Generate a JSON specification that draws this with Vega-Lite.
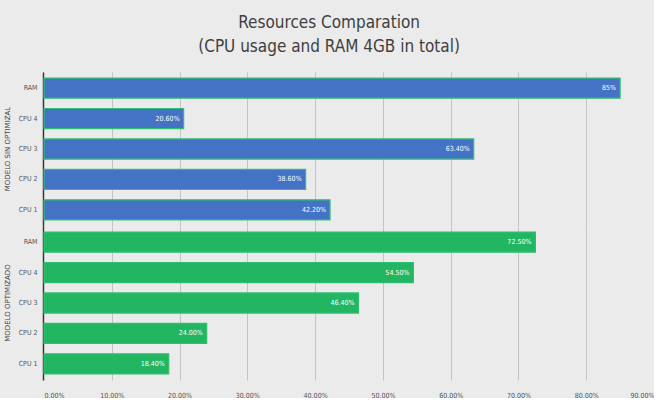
{
  "$schema": "https://vega.github.io/schema/vega-lite/v6.json",
  "background": "#ebebeb",
  "padding": {"left": 4, "right": 0, "top": 14, "bottom": 0},
  "title": {
    "text": ["Resources Comparation", "(CPU usage and RAM 4GB in total)"],
    "fontSize": 17,
    "font": "DejaVu Sans Condensed, Liberation Sans, sans-serif",
    "fontWeight": "normal",
    "color": "#404040",
    "anchor": "middle",
    "lineHeight": 24,
    "offset": 16
  },
  "data": {
    "values": [
      {"group": "MODELO SIN OPTIMIZAL", "resource": "RAM", "value": 0.85, "label": "85%"},
      {"group": "MODELO SIN OPTIMIZAL", "resource": "CPU 4", "value": 0.206, "label": "20.60%"},
      {"group": "MODELO SIN OPTIMIZAL", "resource": "CPU 3", "value": 0.634, "label": "63.40%"},
      {"group": "MODELO SIN OPTIMIZAL", "resource": "CPU 2", "value": 0.386, "label": "38.60%"},
      {"group": "MODELO SIN OPTIMIZAL", "resource": "CPU 1", "value": 0.422, "label": "42.20%"},
      {"group": "MODELO OPTIMIZADO", "resource": "RAM", "value": 0.725, "label": "72.50%"},
      {"group": "MODELO OPTIMIZADO", "resource": "CPU 4", "value": 0.545, "label": "54.50%"},
      {"group": "MODELO OPTIMIZADO", "resource": "CPU 3", "value": 0.464, "label": "46.40%"},
      {"group": "MODELO OPTIMIZADO", "resource": "CPU 2", "value": 0.24, "label": "24.00%"},
      {"group": "MODELO OPTIMIZADO", "resource": "CPU 1", "value": 0.184, "label": "18.40%"}
    ]
  },
  "facet": {
    "row": {
      "field": "group",
      "type": "nominal",
      "sort": ["MODELO SIN OPTIMIZAL", "MODELO OPTIMIZADO"],
      "title": null,
      "header": {
        "labelAngle": -90,
        "labelOrient": "left",
        "labelFont": "DejaVu Sans",
        "labelFontSize": 7,
        "labelColor": "#404040",
        "labelPadding": 3
      }
    }
  },
  "spacing": 0,
  "spec": {
    "width": 610,
    "height": 154,
    "encoding": {
      "y": {
        "field": "resource",
        "type": "nominal",
        "sort": ["RAM", "CPU 4", "CPU 3", "CPU 2", "CPU 1"],
        "title": null,
        "scale": {"paddingInner": 0.34, "paddingOuter": 0.2},
        "axis": {
          "ticks": false,
          "domainColor": "#333333",
          "domainWidth": 1.5,
          "labelFont": "DejaVu Sans Condensed, Liberation Sans, sans-serif",
          "labelFontSize": 7,
          "labelColor": "#555555",
          "labelPadding": 6
        }
      },
      "x": {
        "field": "value",
        "type": "quantitative",
        "title": null,
        "scale": {"domain": [0, 0.9]},
        "axis": {
          "format": ".2%",
          "values": [0, 0.1, 0.2, 0.3, 0.4, 0.5, 0.6, 0.7, 0.8, 0.9],
          "grid": true,
          "gridColor": "#c4c4c4",
          "domain": false,
          "ticks": false,
          "labelFont": "DejaVu Sans Condensed, Liberation Sans, sans-serif",
          "labelFontSize": 7,
          "labelColor": "#555555",
          "labelPadding": 11
        }
      }
    },
    "layer": [
      {
        "mark": {"type": "bar", "strokeWidth": 1.2},
        "encoding": {
          "color": {
            "field": "group",
            "type": "nominal",
            "scale": {"domain": ["MODELO SIN OPTIMIZAL", "MODELO OPTIMIZADO"], "range": ["#4472c4", "#22b663"]},
            "legend": null
          },
          "stroke": {"value": "#2fbf72"}
        }
      },
      {
        "mark": {"type": "text", "align": "right", "dx": -4, "color": "white", "fontSize": 7, "font": "DejaVu Sans Condensed, Liberation Sans, sans-serif"},
        "encoding": {"text": {"field": "label"}}
      }
    ]
  },
  "config": {"view": {"stroke": null}}
}
